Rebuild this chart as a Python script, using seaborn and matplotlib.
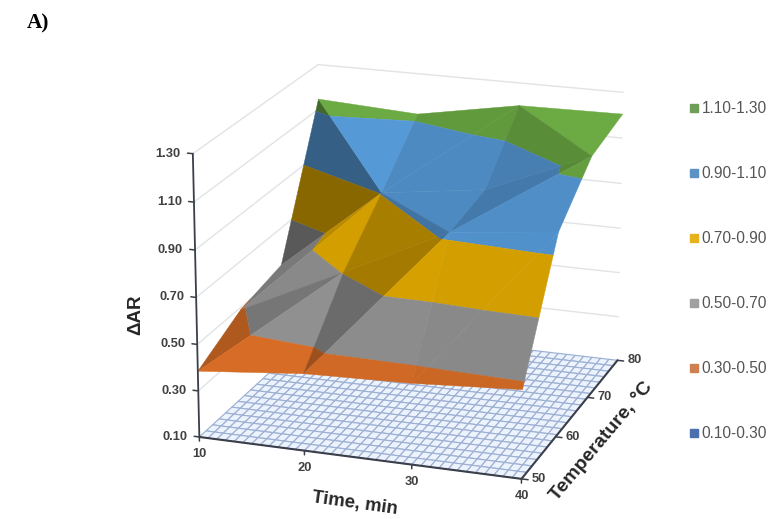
import numpy as np
import matplotlib
matplotlib.use("Agg")
import matplotlib.pyplot as plt
from matplotlib.lines import Line2D
from mpl_toolkits.mplot3d import proj3d
from mpl_toolkits.mplot3d.art3d import Poly3DCollection
import seaborn as sns

# Data
time_min = [10, 20, 30, 40]
temp_c = [50, 60, 70, 80]
dar_t50 = [0.385, 0.430, 0.445, 0.475]
dar_t60 = [0.490, 0.705, 0.925, 0.975]
dar_t70 = [0.535, 0.905, 0.965, 1.155]
dar_t80 = [1.145, 1.120, 1.200, 1.205]
z_ticks = [0.10, 0.30, 0.50, 0.70, 0.90, 1.10, 1.30]
band_labels = ["0.10-0.30", "0.30-0.50", "0.50-0.70", "0.70-0.90", "0.90-1.10", "1.10-1.30"]

sns.set_theme(style="white", font="Liberation Sans")
band_colors = sns.color_palette(["#3F6CB0", "#D66C26", "#909090", "#DDA600", "#5599D6", "#6CAA44"])
legend_colors = sns.color_palette(["#4A70B0", "#CF8050", "#A0A0A0", "#E8B21C", "#5C93C4", "#6F9E58"])

dar = np.array([dar_t50, dar_t60, dar_t70, dar_t80])
edges = np.array(z_ticks)

# facets of the Excel surface (i = time index, j = temperature index) and their shading
facets = [
    ((0, 0), (1, 0), (1, 1), 1.00), ((0, 0), (1, 1), (0, 1), 0.82),
    ((1, 0), (2, 0), (2, 1), 0.97), ((1, 0), (2, 1), (1, 1), 0.74),
    ((2, 0), (3, 0), (3, 1), 0.95), ((2, 0), (3, 1), (2, 1), 0.95),
    ((0, 1), (1, 1), (1, 2), 0.95), ((0, 1), (1, 2), (0, 2), 0.84),
    ((1, 1), (2, 1), (1, 2), 0.76), ((2, 1), (2, 2), (1, 2), 0.90),
    ((2, 1), (3, 1), (3, 2), 0.93), ((2, 1), (3, 2), (2, 2), 0.80),
    ((0, 2), (1, 2), (0, 3), 0.62), ((0, 3), (1, 2), (1, 3), 1.00),
    ((1, 2), (2, 2), (2, 3), 0.90), ((1, 2), (2, 3), (1, 3), 0.90),
    ((2, 2), (3, 2), (2, 3), 0.83), ((2, 3), (3, 2), (3, 3), 1.00),
]


def clip_band(poly, lo, hi):
    """Cut a polygon in (x, y, z) down to lo <= z <= hi."""
    for level, keep_above in ((lo, True), (hi, False)):
        out = []
        for a, b in zip(poly, poly[1:] + poly[:1]):
            a_in = a[2] >= level if keep_above else a[2] <= level
            b_in = b[2] >= level if keep_above else b[2] <= level
            if a_in:
                out.append(a)
            if a_in != b_in:
                s = (level - a[2]) / (b[2] - a[2])
                out.append(tuple(np.array(a) + s * (np.array(b) - np.array(a))))
        poly = out
        if not poly:
            return []
    return poly


fig = plt.figure(figsize=(7.71, 5.19), dpi=100)
ax = fig.add_axes([-0.5 + 15.36 / 771, -0.5 - 16.25 / 519, 2, 2], projection="3d", computed_zorder=False)
ax.set_xlim(10, 40, view_margin=0)
ax.set_ylim(50, 80, view_margin=0)
ax.set_zlim(0.1, 1.3, view_margin=0)
ax.view_init(elev=18.709, azim=-71.1136)
ax.set_proj_type("persp", focal_length=0.5788)
ax.set_box_aspect((1, 1.0303, 0.8779), zoom=0.5212)
ax.set_axis_off()
M = ax.get_proj()

t0, t1 = time_min[0], time_min[-1]
T0, T1 = temp_c[0], temp_c[-1]
z0, z1 = z_ticks[0], z_ticks[-1]

# wall gridlines
for z in z_ticks[1:]:
    ax.plot([t0, t0, t1], [T0, T1, T1], [z, z, z], color="#E2E3E5", lw=1.0, zorder=1)

# floor mesh
X, Y = np.meshgrid(np.linspace(t0, t1, 37), np.linspace(T0, T1, 21))
ax.plot_surface(X, Y, np.full_like(X, z0), color="#EDF3FD", edgecolor="#9DB0D3", linewidth=0.85,
                shade=False, rcount=21, ccount=37, zorder=2)

# surface, one piece per band per facet
polys, colors = [], []
for a, b, c, shade in facets:
    tri = [(time_min[i], temp_c[j], dar[j, i]) for i, j in (a, b, c)]
    for k, col in enumerate(band_colors):
        piece = clip_band(tri, edges[k], edges[k + 1])
        if len(piece) >= 3:
            polys.append(piece)
            colors.append(tuple(np.array(col) * shade))
surf = Poly3DCollection(polys, facecolors=colors, edgecolors=colors, linewidths=0.3, zorder=5)
ax.add_collection3d(surf)

# axis lines and ticks
axis_color = "#3A3F4A"
ax.plot([t0, t0], [T0, T0], [z0, z1], color=axis_color, lw=1.3, zorder=6)
ax.plot([t0, t1], [T0, T0], [z0, z0], color=axis_color, lw=1.5, zorder=6)
ax.plot([t1, t1], [T0, T1], [z0, z0], color=axis_color, lw=1.5, zorder=6)
for z in z_ticks:
    ax.plot([t0 - 0.5, t0], [T0, T0], [z, z], color=axis_color, lw=1.1, zorder=6)
for t in time_min:
    ax.plot([t, t], [T0, T0], [z0 - 0.018, z0], color=axis_color, lw=1.1, zorder=6)
for T in temp_c:
    ax.plot([t1, t1 + 0.6], [T, T], [z0, z0], color=axis_color, lw=1.1, zorder=6)


def tick_label(t, T, z, text, dx, dy, ha="center"):
    x, y, _ = proj3d.proj_transform(t, T, z, M)
    ax.annotate(text, (x, y), xytext=(dx, dy), textcoords="offset pixels", ha=ha, va="center",
                fontsize=9.3, fontweight="bold", color="#404040", annotation_clip=False)


for z in z_ticks:
    tick_label(t0, T0, z, f"{z:.2f}", -12, 0, ha="right")
for t in time_min:
    tick_label(t, T0, z0, str(t), 0, -17)
for T in temp_c:
    tick_label(t1, T, z0, str(T), 17, 0)

fig.text(136 / 771, 1 - 315 / 519, "ΔAR", rotation=90, ha="center", va="center",
         fontsize=13.5, fontweight="bold", color="#262626")
fig.text(355 / 771, 1 - 504 / 519, "Time, min", rotation=-8, ha="center", va="center",
         fontsize=13.4, fontweight="bold", color="#262626")
fig.text(601 / 771, 1 - 441 / 519, "Temperature, °C", rotation=50, ha="center", va="center",
         fontsize=14, fontweight="bold", color="#262626", rotation_mode="anchor")
fig.text(27 / 771, 1 - 23 / 519, "A)", ha="left", va="center", fontsize=15.3, fontweight="bold",
         family="Liberation Serif", color="black")

handles = [Line2D([], [], ls="", marker="s", ms=5.4, color=c) for c in legend_colors[::-1]]
fig.legend(handles, band_labels[::-1], loc="upper left", bbox_to_anchor=(686 / 771, 1 - 101 / 519),
           frameon=False, fontsize=11.2, labelcolor="#555555", labelspacing=3.22,
           handletextpad=0.0, handlelength=1.0, borderpad=0, borderaxespad=0)

fig.savefig("out.png", dpi=100)
